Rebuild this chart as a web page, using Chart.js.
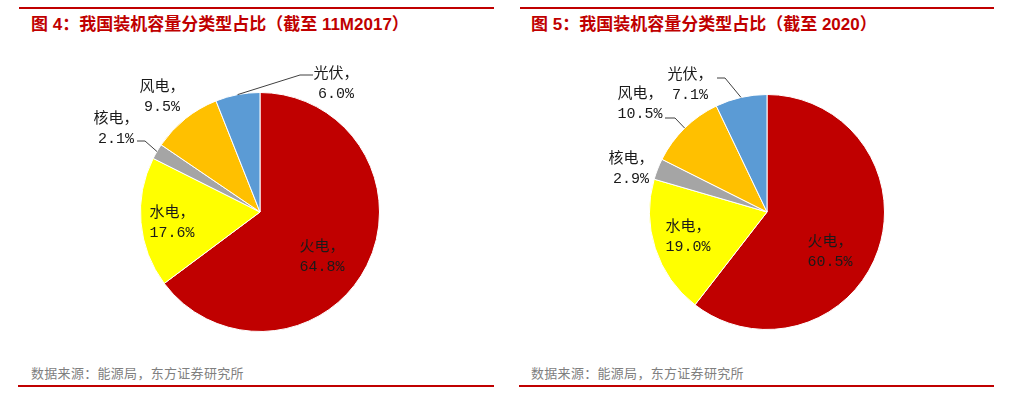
<!DOCTYPE html>
<html>
<head>
<meta charset="utf-8">
<script src="https://cdn.jsdelivr.net/npm/chart.js@4.4.0/dist/chart.umd.min.js"></script>
<style>
    html, body { margin: 0; padding: 0; background: #fff; }
    body { width: 1011px; height: 397px; position: relative; overflow: hidden; }
    .linea { position: absolute; height: 2px; background: #C00000; }
    .titulo { position: absolute; top: 12px; line-height: 26px; font: bold 17px/26px "Liberation Sans", "Noto Sans CJK SC", sans-serif; color: #C00000; white-space: nowrap; }
    .fuente { position: absolute; top: 363px; font: 13px "Noto Sans CJK SC", sans-serif; letter-spacing: 0.3px; color: #7f7f7f; white-space: nowrap; }
    .caja { position: absolute; top: 45px; height: 310px; }
</style>
</head>
<body>

<div class="linea" style="left:19px; top:7px; width:475px"></div>
<div class="titulo" style="left:31px">图 4：我国装机容量分类型占比（截至 11M2017）</div>
<div class="caja" style="left:20px; width:480px"><canvas id="graficoIzq"></canvas></div>
<div class="fuente" style="left:31px">数据来源：能源局，东方证券研究所</div>
<div class="linea" style="left:18px; top:385px; width:476px"></div>

<div class="linea" style="left:520px; top:7px; width:474px"></div>
<div class="titulo" style="left:531px">图 5：我国装机容量分类型占比（截至 2020）</div>
<div class="caja" style="left:520px; width:474px"><canvas id="graficoDer"></canvas></div>
<div class="fuente" style="left:531px">数据来源：能源局，东方证券研究所</div>
<div class="linea" style="left:519px; top:385px; width:475px"></div>

<script>
const categorias = ['火电', '水电', '核电', '风电', '光伏']
const valores2017 = [64.8, 17.6, 2.1, 9.5, 6.0]
const valores2020 = [60.5, 19.0, 2.9, 10.5, 7.1]
const colores = ['#C00000', '#FFFF00', '#A5A5A5', '#FFC000', '#5B9BD5']

// posiciones de etiquetas relativas al centro del pie (px)
const etiquetasIzq = {
    pos: [[62, 44], [-88, 10], [-144, -84], [-98, -116], [76, -129]],
    guias: [null, null, { codo: [-115, -71], fin: [-123, -71] }, null, { codo: [40, -137], fin: [53, -137] }]
}
const etiquetasDer = {
    pos: [[63, 39], [-79, 24], [-136, -44], [-127, -109], [-77, -128]],
    guias: [null, null, null, { codo: [-92, -94], fin: [-102, -94] }, { codo: [-42, -134], fin: [-50, -134] }]
}

const pluginEtiquetas = {
    id: 'etiquetas',
    afterDraw(chart, args, opts) {
        const ctx = chart.ctx
        const arcos = chart.getDatasetMeta(0).data
        const datos = chart.data.datasets[0].data
        ctx.save()
        arcos.forEach((arco, i) => {
            const { x, y, startAngle, endAngle, outerRadius } = arco
            const medio = (startAngle + endAngle) / 2
            const guia = opts.guias[i]
            if (guia) {
                ctx.beginPath()
                ctx.strokeStyle = '#404040'
                ctx.lineWidth = 1
                ctx.moveTo(x + Math.cos(medio) * outerRadius, y + Math.sin(medio) * outerRadius)
                ctx.lineTo(x + guia.codo[0], y + guia.codo[1])
                ctx.lineTo(x + guia.fin[0], y + guia.fin[1])
                ctx.stroke()
            }
            const [dx, dy] = opts.pos[i]
            ctx.fillStyle = '#1a1a1a'
            ctx.textAlign = 'center'
            ctx.textBaseline = 'middle'
            ctx.font = '15px "Noto Sans CJK SC", sans-serif'
            ctx.fillText(chart.data.labels[i] + '，', x + dx, y + dy - 11)
            ctx.font = '15px "Liberation Mono", monospace'
            ctx.fillText(datos[i].toFixed(1) + '%', x + dx, y + dy + 11)
        })
        ctx.restore()
    }
}

function crearPie(canvasId, data, etiquetas, padding) {
    const ctx = document.getElementById(canvasId).getContext('2d')
    return new Chart(ctx, {
        type: 'pie',
        data: {
            labels: categorias,
            datasets: [{
                data,
                backgroundColor: colores,
                borderColor: '#ffffff',
                borderWidth: 1
            }]
        },
        plugins: [pluginEtiquetas],
        options: {
            responsive: true,
            maintainAspectRatio: false,
            animation: false,
            layout: { padding },
            plugins: {
                legend: { display: false },
                tooltip: { enabled: false },
                etiquetas
            }
        }
    })
}

crearPie('graficoIzq', valores2017, etiquetasIzq, { left: 120, right: 120, top: 47, bottom: 23 })
crearPie('graficoDer', valores2020, etiquetasDer, { left: 129, right: 109, top: 49, bottom: 25 })
</script>
</body>
</html>
